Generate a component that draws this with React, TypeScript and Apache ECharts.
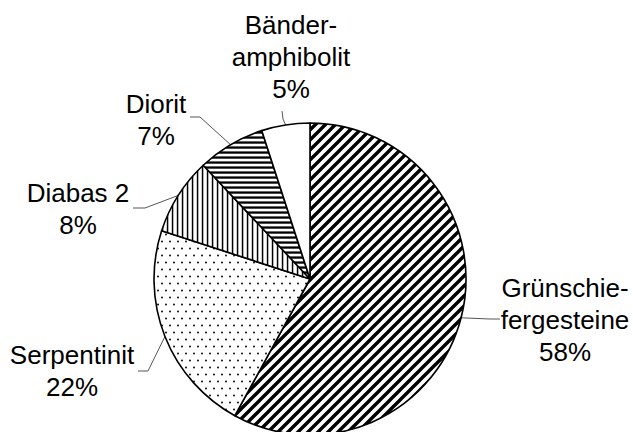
import React, { useEffect, useRef } from "react";
import * as echarts from "echarts";

// ---- data ----
const categories = [
  "Grünschie-\nfergesteine",
  "Serpentinit",
  "Diabas 2",
  "Diorit",
  "Bänder-\namphibolit",
];
const values = [58, 22, 8, 7, 5];

// ---- layout / style (not data) ----
const CENTER: [number, number] = [310, 279];
const RADIUS = 156;
// label block centres and leader-line elbows/ends
const labelLayouts = [
  { x: 565, y: 320, elbow: [490, 319], end: [500, 319] },
  { x: 72, y: 371, elbow: [148, 371], end: [138, 371] },
  { x: 78, y: 209, elbow: [145, 208], end: [133, 208] },
  { x: 156, y: 120, elbow: [200, 117], end: [190, 117] },
  { x: 291, y: 57, elbow: [283, 119], end: [282, 111] },
];

const svgUrl = (w: number, h: number, body: string) =>
  "data:image/svg+xml;charset=utf-8," +
  encodeURIComponent(
    `<svg xmlns='http://www.w3.org/2000/svg' width='${w}' height='${h}'><rect width='${w}' height='${h}' fill='white'/>${body}</svg>`
  );

const pat = (w: number, h: number, body: string) => ({
  image: svgUrl(w, h, body),
  imageWidth: w,
  imageHeight: h,
  repeat: "repeat",
});

const patterns = [
  // diagonal "/"
  pat(
    10,
    10,
    "<path d='M-2.5,2.5 L2.5,-2.5 M0,10 L10,0 M7.5,12.5 L12.5,7.5' stroke='black' stroke-width='3.4'/>"
  ),
  // dots
  pat(
    8,
    14,
    "<circle cx='2' cy='3.5' r='0.95' fill='black'/><circle cx='6' cy='10.5' r='0.95' fill='black'/>"
  ),
  // vertical lines
  pat(5, 10, "<rect x='1.8' y='0' width='1.5' height='10' fill='black'/>"),
  // horizontal lines
  pat(10, 5, "<rect x='0' y='1.4' width='10' height='2.3' fill='black'/>"),
  "#ffffff",
];

export default function App() {
  const ref = useRef<HTMLDivElement>(null);
  useEffect(() => {
    document.body.style.margin = "0";
    if (!ref.current) return;
    const chart = echarts.init(ref.current, undefined, { renderer: "svg" });
    const total = values.reduce((a, b) => a + b, 0);
    const edgePoint = (i: number) => {
      let before = 0;
      for (let k = 0; k < i; k++) before += values[k];
      const mid = ((before + values[i] / 2) / total) * Math.PI * 2;
      return [CENTER[0] + RADIUS * Math.sin(mid), CENTER[1] - RADIUS * Math.cos(mid)];
    };
    chart.setOption({
      animation: false,
      backgroundColor: "#ffffff",
      series: [
        {
          type: "pie",
          center: CENTER,
          radius: RADIUS,
          startAngle: 90,
          clockwise: true,
          avoidLabelOverlap: false,
          data: categories.map((name, i) => ({
            name,
            value: values[i],
            itemStyle: { color: patterns[i] as any },
          })),
          itemStyle: { borderColor: "#000", borderWidth: 1.6 },
          emphasis: { disabled: true },
          label: {
            show: true,
            position: "outside",
            formatter: (p: any) => `${p.name}\n${p.value}%`,
            fontFamily: "'Liberation Sans', Arial, Helvetica, sans-serif",
            fontSize: 26,
            lineHeight: 32,
            color: "#000",
            align: "center",
          },
          labelLine: {
            show: true,
            lineStyle: { color: "#555", width: 1 },
          },
          labelLayout: (params: any) => {
            const i = params.dataIndex;
            const L = labelLayouts[i];
            const p0 =
              params.labelLinePoints && params.labelLinePoints[0]
                ? params.labelLinePoints[0]
                : edgePoint(i);
            return {
              x: L.x,
              y: L.y,
              align: "center",
              verticalAlign: "middle",
              labelLinePoints: [p0, L.elbow, L.end],
            };
          },
        },
      ],
    });
    return () => chart.dispose();
  }, []);
  return <div ref={ref} style={{ width: 633, height: 432 }} />;
}
